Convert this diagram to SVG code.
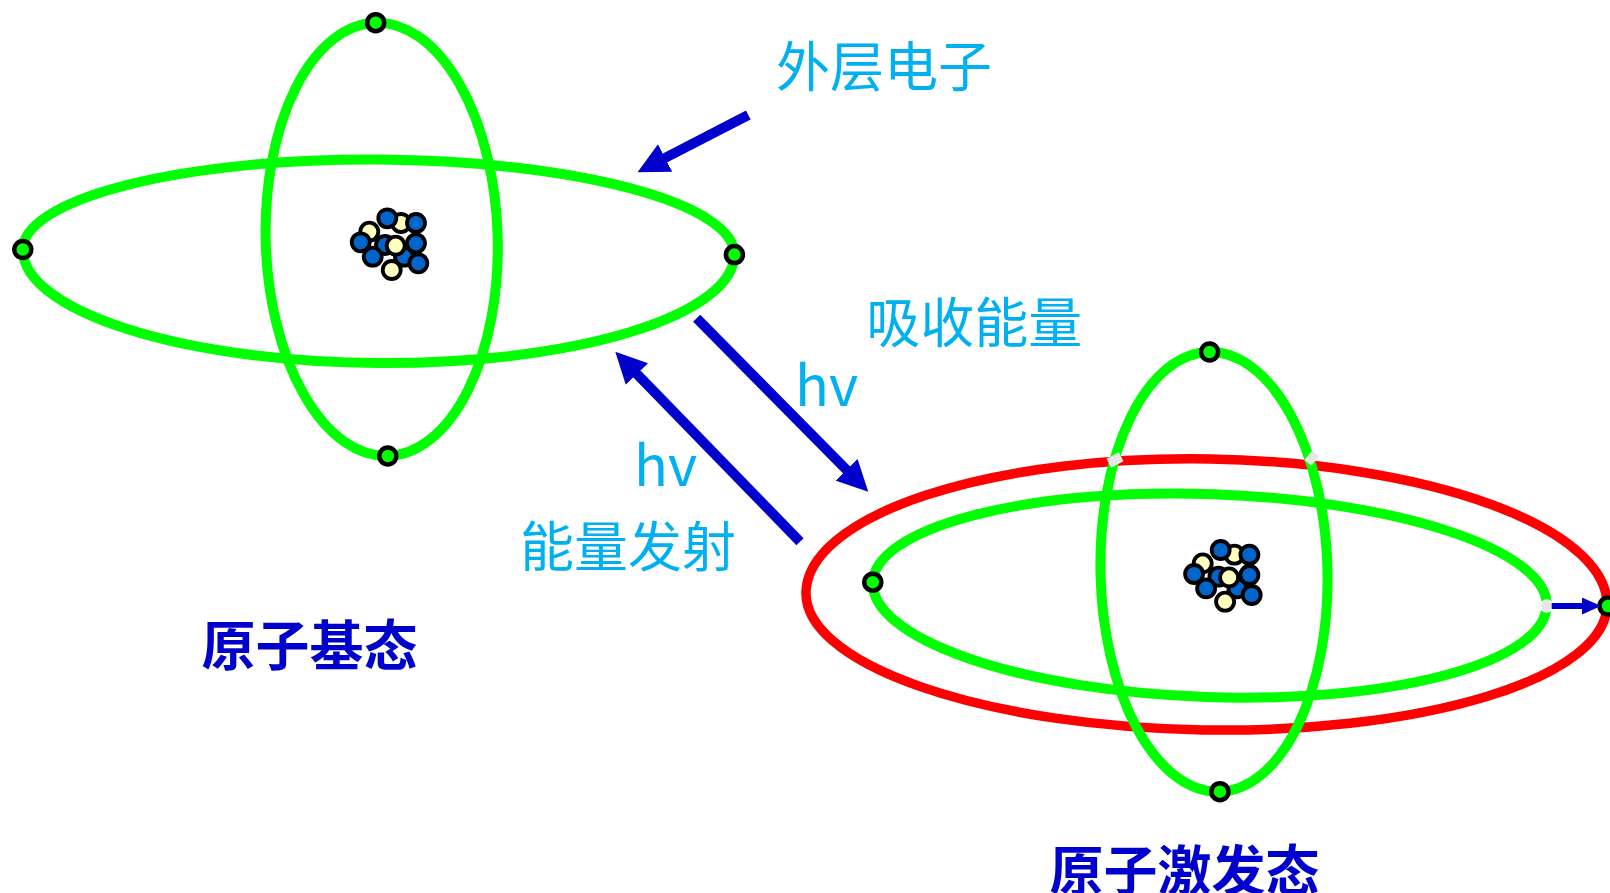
<svg xmlns="http://www.w3.org/2000/svg" xmlns:xlink="http://www.w3.org/1999/xlink" width="1610" height="893" viewBox="0 0 1610 893">
  <style>
    .orbit { fill: none; stroke: #00ff00; stroke-width: 10; }
    .orbit-red { fill: none; stroke: #ff0000; stroke-width: 9.5; }
    .electron { fill: #00ff00; stroke: #000000; stroke-width: 4.5; }
    .p { fill: #0066cc; stroke: #000000; stroke-width: 3.8; }
    .n { fill: #ffffc0; stroke: #000000; stroke-width: 3.8; }
    .arrow { stroke: #0000cc; stroke-width: 10; fill: none; }
    .arrow-s { stroke: #0000cc; stroke-width: 6; fill: none; }
    .label { font-family: "Noto Sans CJK SC", "Noto Sans", sans-serif; fill: #00b0f0; font-size: 54px; dominant-baseline: central; text-anchor: middle; }
    .hv { font-family: "Noto Sans CJK SC", "Noto Sans", sans-serif; fill: #00b0f0; font-size: 56px; }
    .title { font-family: "Noto Sans CJK SC", sans-serif; fill: #0000cc; font-size: 54px; font-weight: 700; dominant-baseline: central; text-anchor: middle; }
    .mark { fill: #e6e6e6; }
  </style>
  <defs>
    <marker id="head" markerUnits="userSpaceOnUse" viewBox="0 0 31 31" markerWidth="31" markerHeight="31" refX="1" refY="15.5" orient="auto">
      <path d="M0,0 L31,15.5 L0,31 Z" fill="#0000cc"/>
    </marker>
    <marker id="head-s" markerUnits="userSpaceOnUse" viewBox="0 0 19 17" markerWidth="19" markerHeight="17" refX="1" refY="8.5" orient="auto">
      <path d="M0,0 L19,8.5 L0,17 Z" fill="#0000cc"/>
    </marker>
    <!-- nucleus: protons (blue) and neutrons (pale yellow), back to front -->
    <g id="nucleus">
      <circle class="n" cx="11" cy="-21" r="9"/>
      <circle class="p" cx="-2.7" cy="-25.7" r="9"/>
      <circle class="p" cx="26" cy="-21" r="9"/>
      <circle class="n" cx="-20.7" cy="-12.3" r="9"/>
      <circle class="p" cx="-29.3" cy="-1.7" r="9"/>
      <circle class="p" cx="-5" cy="1" r="9"/>
      <circle class="p" cx="14" cy="12.7" r="9"/>
      <circle class="n" cx="5.7" cy="1.7" r="9"/>
      <circle class="p" cx="26" cy="-0.7" r="9"/>
      <circle class="p" cx="-17.3" cy="12.7" r="9"/>
      <circle class="p" cx="28.3" cy="19.3" r="9"/>
      <circle class="n" cx="1.7" cy="26" r="9"/>
    </g>
  </defs>

  <!-- ground-state atom -->
  <g id="atom-ground">
    <path class="orbit" d="M22.8,249.5 A355.8,92.5 0.4 0 1 734.4,254.6 A355.8,111 0.4 0 1 22.8,249.5 Z"/>
    <ellipse class="orbit" cx="381.7" cy="239.3" rx="116" ry="216.7" transform="rotate(-1.6 381.7 239.3)"/>
    <use xlink:href="#nucleus" transform="translate(390 244)"/>
    <circle class="electron" cx="375.7" cy="22.7" r="8.5"/>
    <circle class="electron" cx="387.8" cy="456" r="8.5"/>
    <circle class="electron" cx="22.8" cy="249.5" r="8.5"/>
    <circle class="electron" cx="734.4" cy="254.6" r="8.5"/>
  </g>

  <!-- excited-state atom -->
  <g id="atom-excited">
    <path class="orbit-red" d="M806,592 A400.5,140 0.9 0 1 1607,606 A400.5,131 0.9 0 1 806,592 Z"/>
    <ellipse class="orbit" cx="1214" cy="571.9" rx="113.5" ry="219.9" transform="rotate(-1.34 1214 571.9)"/>
    <path class="orbit" d="M872.8,582.2 A337,100 2 0 1 1546.7,606 A337,103 2 0 1 872.8,582.2 Z"/>
    <rect class="mark" x="-7" y="-5" width="14" height="10" transform="translate(1115 460) rotate(-28)"/>
    <rect class="mark" x="-6" y="-4.5" width="12" height="9" transform="translate(1311.7 458.3) rotate(-50)"/>
    <circle class="mark" cx="1546.7" cy="606" r="6" stroke="#ffffff" stroke-width="1.5"/>
    <use xlink:href="#nucleus" transform="translate(1223.4 575.7)"/>
    <circle class="electron" cx="1209.6" cy="352" r="8.5"/>
    <circle class="electron" cx="1219.9" cy="791.7" r="8.5"/>
    <circle class="electron" cx="872.8" cy="582.2" r="8.5"/>
    <circle class="electron" cx="1608" cy="606" r="8.5"/>
  </g>

  <!-- connectors -->
  <g id="connectors">
    <line class="arrow" x1="748.3" y1="115" x2="664.2" y2="158.4" marker-end="url(#head)"/>
    <line class="arrow" x1="696.7" y1="318.3" x2="847.2" y2="470.5" marker-end="url(#head)"/>
    <line class="arrow" x1="800" y1="541.7" x2="636.2" y2="373.3" marker-end="url(#head)"/>
    <line class="arrow-s" x1="1551.7" y1="606" x2="1583" y2="606" marker-end="url(#head-s)"/>
  </g>

  <!-- labels -->
  <g id="label-outer-electron"><text class="label" x="884" y="63.5">外层电子</text></g>
  <g id="label-absorb"><text class="label" x="974.2" y="319">吸收能量</text></g>
  <g id="label-hv-absorb"><text class="hv" x="795" y="406">hv</text></g>
  <g id="label-hv-emit"><text class="hv" x="634" y="486">hv</text></g>
  <g id="label-emit"><text class="label" x="628" y="543">能量发射</text></g>
  <g id="label-ground"><text class="title" x="309.5" y="642">原子基态</text></g>
  <g id="label-excited"><text class="title" x="1184.5" y="867">原子激发态</text></g>
</svg>
